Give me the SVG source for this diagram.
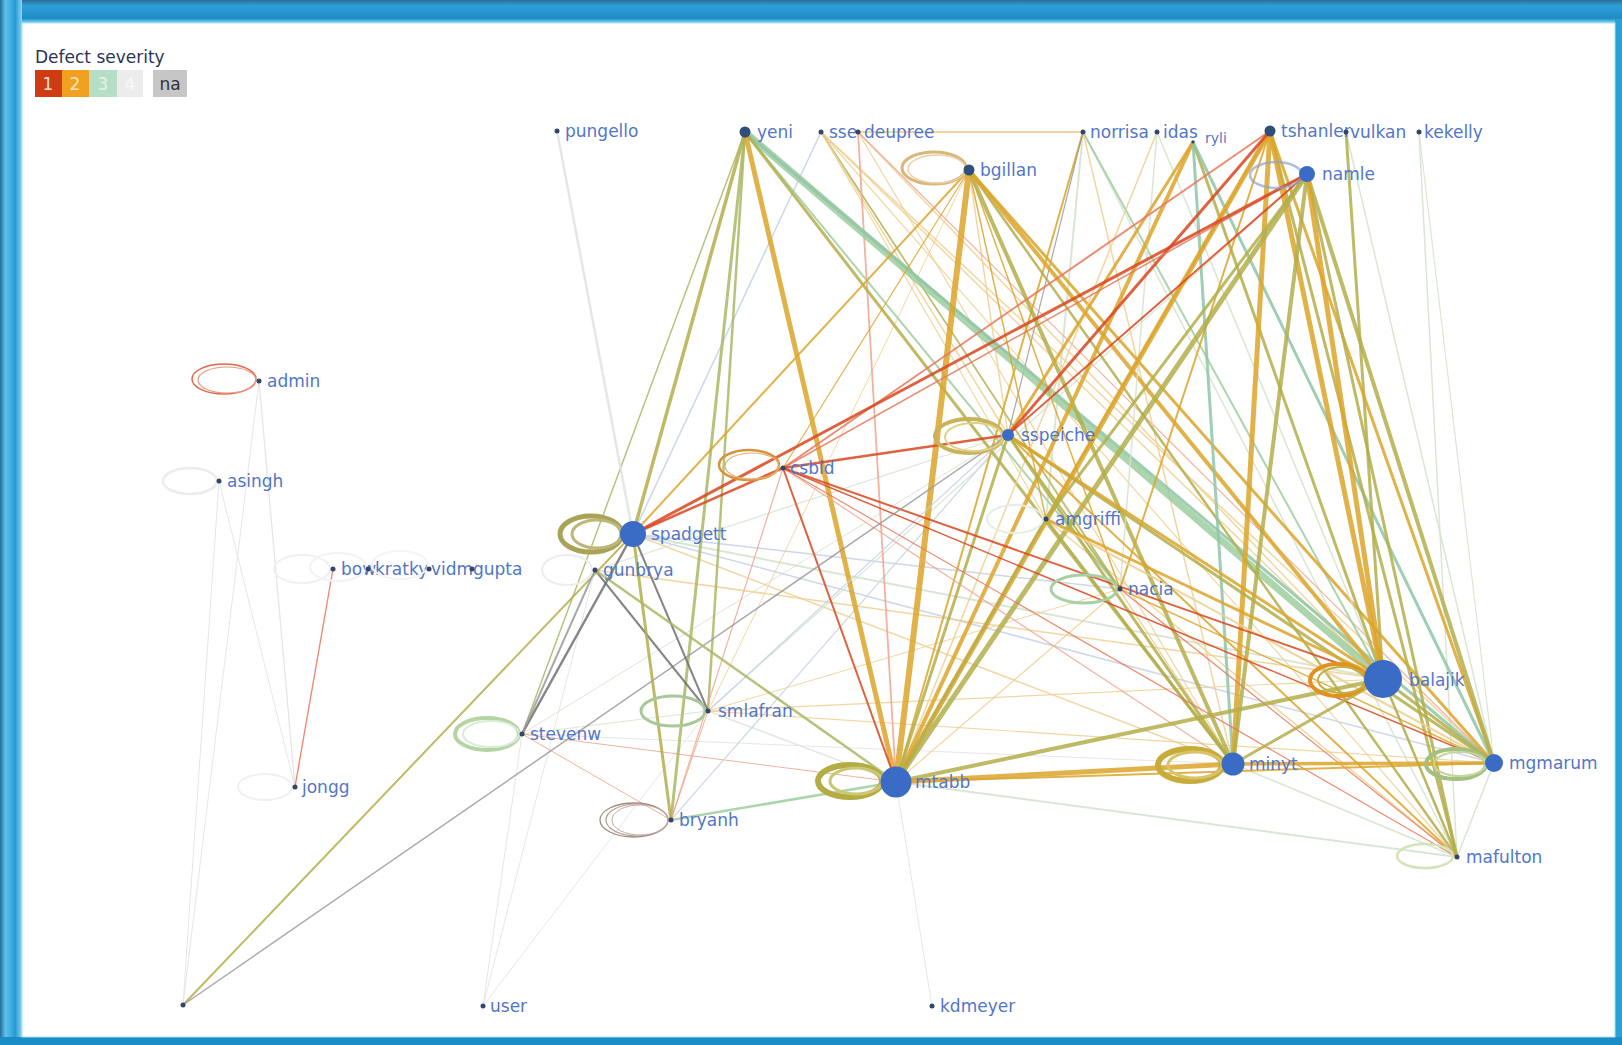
<svg xmlns="http://www.w3.org/2000/svg" width="1622" height="1045" viewBox="0 0 1622 1045">
<defs>
  <linearGradient id="frameTop" x1="0" y1="0" x2="0" y2="1">
    <stop offset="0" stop-color="#2a6f98"/>
    <stop offset="0.25" stop-color="#2f9fd6"/>
    <stop offset="0.8" stop-color="#1d8cc6"/>
    <stop offset="1" stop-color="#8ad6f2"/>
  </linearGradient>
  <linearGradient id="frameLeft" x1="0" y1="0" x2="1" y2="0">
    <stop offset="0" stop-color="#266c94"/>
    <stop offset="0.25" stop-color="#5cc2ee"/>
    <stop offset="0.7" stop-color="#2a9ad2"/>
    <stop offset="1" stop-color="#8ad6f2"/>
  </linearGradient>
  <style>
    .lb { font-family: "DejaVu Sans", "Liberation Sans", sans-serif; font-size: 17px; fill: #5276c8; }
    .ttl { font-family: "DejaVu Sans", "Liberation Sans", sans-serif; font-size: 17px; fill: #2c3556; }
    .key { font-family: "DejaVu Sans", "Liberation Sans", sans-serif; font-size: 17px; text-anchor: middle; }
    #connectors line { stroke-linecap: round; opacity: 0.85; fill: none; }
    .loop ellipse { fill: none; }
    .dot { fill: #33466a; }
    .hub { fill: #2f4e7a; }
    .big { fill: #3a6cc6; }
    .r { stroke: #d9461e; }
    .rl { stroke: #e8785a; }
    .pk { stroke: #f0a48c; }
    .g { stroke: #dca52a; }
    .gl { stroke: #f0cf90; }
    .ol { stroke: #b3ae4a; }
    .og { stroke: #a9b866; }
    .gn { stroke: #9dce9f; }
    .tg { stroke: #8fc6a8; }
    .gy { stroke: #9a9a9a; }
    .dg { stroke: #6e7270; }
    .lg { stroke: #e2e2e2; }
    .pb { stroke: #c4d0e4; }
    .pg { stroke: #d4e2cc; }
  </style>
</defs>

<!-- window frame -->
<rect x="0" y="0" width="1622" height="1045" fill="#1f6f9a"/>
<rect x="0" y="0" width="1622" height="23" fill="url(#frameTop)"/>
<rect x="0" y="0" width="22" height="1045" fill="url(#frameLeft)"/>
<rect x="1615" y="20" width="7" height="1025" fill="#2aa0d8"/>
<rect x="0" y="1037" width="1622" height="8" fill="#1a8cc6"/>
<rect x="22" y="23" width="1593" height="1014" fill="#ffffff" stroke="#a8e0f4" stroke-width="1"/>

<!-- legend -->
<g id="legend">
  <text class="ttl" x="35" y="63">Defect severity</text>
  <rect x="35" y="70" width="27" height="27" fill="#cf3c14"/>
  <rect x="62" y="70" width="27" height="27" fill="#f2a020"/>
  <rect x="89" y="70" width="28" height="27" fill="#b6dec6"/>
  <rect x="117" y="70" width="26" height="27" fill="#ececec"/>
  <rect x="153" y="70" width="34" height="27" fill="#c6c6c6"/>
  <text class="key" x="48" y="90" fill="#fbe0d0">1</text>
  <text class="key" x="75" y="90" fill="#fde6b8">2</text>
  <text class="key" x="103" y="90" fill="#e2f2e8">3</text>
  <text class="key" x="130" y="90" fill="#f8f8f8">4</text>
  <text class="key" x="170" y="90" fill="#333333">na</text>
</g>

<!-- connectors -->
<g id="connectors">
  <!-- faint background links -->
  <line class="lg" x1="259" y1="381" x2="295" y2="787" stroke-width="1.3"/>
  <line class="lg" x1="259" y1="381" x2="183" y2="1005" stroke-width="1"/>
  <line class="lg" x1="219" y1="481" x2="183" y2="1005" stroke-width="1"/>
  <line class="lg" x1="219" y1="481" x2="295" y2="787" stroke-width="1"/>
  <line class="rl" x1="333" y1="569" x2="295" y2="787" stroke-width="1.4"/>
  <line class="lg" x1="483" y1="1006" x2="595" y2="570" stroke-width="1"/>
  <line class="lg" x1="483" y1="1006" x2="708" y2="711" stroke-width="1"/>
  <line class="lg" x1="522" y1="734" x2="483" y2="1006" stroke-width="1"/>
  <line class="lg" x1="932" y1="1006" x2="896" y2="782" stroke-width="1"/>
  <line class="lg" x1="522" y1="734" x2="1233" y2="764" stroke-width="1"/>
  <line class="pg" x1="522" y1="734" x2="1008" y2="435" stroke-width="1"/>
  <line class="pk" x1="522" y1="734" x2="671" y2="820" stroke-width="1"/>
  <line class="pk" x1="522" y1="734" x2="896" y2="782" stroke-width="1"/>
  <line class="pg" x1="708" y1="711" x2="522" y2="734" stroke-width="1"/>
  <line class="lg" x1="708" y1="711" x2="896" y2="782" stroke-width="1.5"/>
  <line class="gl" x1="708" y1="711" x2="1494" y2="763" stroke-width="1.2"/>
  <line class="gl" x1="708" y1="711" x2="1383" y2="679" stroke-width="1.2"/>
  <line class="pb" x1="671" y1="820" x2="1008" y2="435" stroke-width="1.2"/>
  <line class="pk" x1="671" y1="820" x2="708" y2="711" stroke-width="1"/>
  <line class="pg" x1="633" y1="534" x2="1383" y2="679" stroke-width="2"/>
  <line class="gl" x1="633" y1="534" x2="1233" y2="764" stroke-width="1.5"/>
  <line class="pb" x1="633" y1="534" x2="1494" y2="763" stroke-width="1.5"/>
  <line class="pb" x1="633" y1="534" x2="1120" y2="589" stroke-width="1.5"/>
  <line class="gl" x1="595" y1="570" x2="1383" y2="679" stroke-width="1.5"/>
  <line class="pg" x1="896" y1="782" x2="1457" y2="857" stroke-width="2"/>
  <line class="pg" x1="1233" y1="764" x2="1457" y2="857" stroke-width="1.5"/>
  <line class="pg" x1="1494" y1="763" x2="1457" y2="857" stroke-width="1.5"/>
  <line class="pg" x1="1419" y1="132" x2="1457" y2="857" stroke-width="1.5"/>
  <line class="pg" x1="1419" y1="132" x2="1494" y2="763" stroke-width="1.2"/>
  <line class="pg" x1="1346" y1="132" x2="1494" y2="763" stroke-width="1.5"/>
  <line class="pg" x1="1083" y1="132" x2="1457" y2="857" stroke-width="1.5"/>
  <line class="pg" x1="1083" y1="132" x2="1046" y2="519" stroke-width="2"/>
  <line class="pg" x1="1307" y1="174" x2="708" y2="711" stroke-width="1.2"/>
  <line class="gl" x1="1120" y1="589" x2="896" y2="782" stroke-width="1.2"/>
  <line class="gl" x1="969" y1="170" x2="708" y2="711" stroke-width="1"/>
  <line class="gl" x1="969" y1="170" x2="1008" y2="435" stroke-width="1.5"/>
  <line class="gl" x1="1046" y1="519" x2="1457" y2="857" stroke-width="1.5"/>
  <line class="pg" x1="1008" y1="435" x2="595" y2="570" stroke-width="1.2"/>
  <line class="gl" x1="1120" y1="589" x2="708" y2="711" stroke-width="1"/>

  <!-- from sse / deupree / norrisa -->
  <line class="pb" x1="821" y1="132" x2="633" y2="534" stroke-width="1.5"/>
  <line class="gl" x1="821" y1="132" x2="1383" y2="679" stroke-width="1.5"/>
  <line class="gl" x1="821" y1="132" x2="1494" y2="763" stroke-width="1.5"/>
  <line class="gl" x1="821" y1="132" x2="1233" y2="764" stroke-width="1.5"/>
  <line class="gl" x1="821" y1="132" x2="1457" y2="857" stroke-width="1.2"/>
  <line class="gl" x1="821" y1="132" x2="1046" y2="519" stroke-width="1.2"/>
  <line class="og" x1="821" y1="132" x2="1120" y2="589" stroke-width="1.5"/>
  <line class="gl" x1="821" y1="132" x2="1008" y2="435" stroke-width="1.5"/>
  <line class="pk" x1="858" y1="132" x2="896" y2="782" stroke-width="1.8"/>
  <line class="gl" x1="858" y1="132" x2="1083" y2="132" stroke-width="2"/>
  <line class="gl" x1="858" y1="132" x2="1383" y2="679" stroke-width="1.5"/>
  <line class="gl" x1="858" y1="132" x2="1233" y2="764" stroke-width="1.2"/>
  <line class="pk" x1="858" y1="132" x2="1494" y2="763" stroke-width="1.2"/>
  <line class="g" x1="1083" y1="132" x2="896" y2="782" stroke-width="2" opacity="0.6"/>
  <line class="gy" x1="1083" y1="132" x2="1008" y2="435" stroke-width="1.2" opacity="0.5"/>
  <line class="gn" x1="1083" y1="132" x2="1383" y2="679" stroke-width="2"/>
  <line class="gl" x1="1083" y1="132" x2="1233" y2="764" stroke-width="1.5"/>

  <!-- from yeni -->
  <line class="og" x1="745" y1="132" x2="522" y2="734" stroke-width="1.5" opacity="0.5"/>
  <line class="ol" x1="745" y1="132" x2="633" y2="534" stroke-width="3.5"/>
  <line class="og" x1="745" y1="132" x2="708" y2="711" stroke-width="2.5"/>
  <line class="og" x1="745" y1="132" x2="671" y2="820" stroke-width="3"/>
  <line class="gn" x1="745" y1="132" x2="1120" y2="589" stroke-width="2"/>
  <line class="gn" x1="745" y1="132" x2="1383" y2="679" stroke-width="7" opacity="0.75"/>
  <line class="tg" x1="745" y1="132" x2="1494" y2="763" stroke-width="3"/>
  <line class="ol" x1="745" y1="132" x2="1233" y2="764" stroke-width="3"/>
  <line class="g" x1="745" y1="132" x2="896" y2="782" stroke-width="5"/>

  <!-- from bgillan -->
  <line class="g" x1="969" y1="170" x2="633" y2="534" stroke-width="2" opacity="0.75"/>
  <line class="g" x1="969" y1="170" x2="1120" y2="589" stroke-width="1.5" opacity="0.6"/>
  <line class="g" x1="969" y1="170" x2="1046" y2="519" stroke-width="1.5" opacity="0.5"/>
  <line class="g" x1="969" y1="170" x2="783" y2="468" stroke-width="1.2" opacity="0.5"/>
  <line class="ol" x1="969" y1="170" x2="1457" y2="857" stroke-width="2.5"/>
  <line class="g" x1="969" y1="170" x2="1494" y2="763" stroke-width="3"/>
  <line class="ol" x1="969" y1="170" x2="1233" y2="764" stroke-width="4"/>
  <line class="g" x1="969" y1="170" x2="1383" y2="679" stroke-width="4"/>
  <line class="g" x1="969" y1="170" x2="896" y2="782" stroke-width="6"/>

  <!-- from idas / ryli -->
  <line class="gl" x1="1157" y1="132" x2="896" y2="782" stroke-width="1.5"/>
  <line class="pg" x1="1157" y1="132" x2="1120" y2="589" stroke-width="1.5"/>
  <line class="pg" x1="1157" y1="132" x2="1457" y2="857" stroke-width="1.5"/>
  <line class="g" x1="1193" y1="142" x2="1008" y2="435" stroke-width="3"/>
  <line class="g" x1="1193" y1="142" x2="896" y2="782" stroke-width="4"/>
  <line class="tg" x1="1193" y1="142" x2="1233" y2="764" stroke-width="3"/>
  <line class="ol" x1="1193" y1="142" x2="1383" y2="679" stroke-width="3"/>
  <line class="tg" x1="1193" y1="142" x2="1494" y2="763" stroke-width="3"/>

  <!-- from vulkan / tshanler / namle -->
  <line class="ol" x1="1346" y1="132" x2="1383" y2="679" stroke-width="3"/>
  <line class="g" x1="1270" y1="131" x2="1120" y2="589" stroke-width="2" opacity="0.7"/>
  <line class="g" x1="1270" y1="131" x2="1046" y2="519" stroke-width="2" opacity="0.7"/>
  <line class="ol" x1="1270" y1="131" x2="1457" y2="857" stroke-width="3"/>
  <line class="g" x1="1270" y1="131" x2="1494" y2="763" stroke-width="3"/>
  <line class="g" x1="1270" y1="131" x2="1383" y2="679" stroke-width="5"/>
  <line class="g" x1="1270" y1="131" x2="1233" y2="764" stroke-width="5"/>
  <line class="g" x1="1270" y1="131" x2="896" y2="782" stroke-width="5"/>
  <line class="rl" x1="1270" y1="131" x2="783" y2="468" stroke-width="2"/>
  <line class="r" x1="1270" y1="131" x2="1008" y2="435" stroke-width="3"/>
  <line class="rl" x1="1307" y1="174" x2="783" y2="468" stroke-width="1.5"/>
  <line class="ol" x1="1307" y1="174" x2="1046" y2="519" stroke-width="3"/>
  <line class="ol" x1="1307" y1="174" x2="1457" y2="857" stroke-width="3"/>
  <line class="ol" x1="1307" y1="174" x2="1494" y2="763" stroke-width="4"/>
  <line class="g" x1="1307" y1="174" x2="1383" y2="679" stroke-width="5"/>
  <line class="ol" x1="1307" y1="174" x2="1233" y2="764" stroke-width="4"/>
  <line class="ol" x1="1307" y1="174" x2="896" y2="782" stroke-width="5"/>
  <line class="r" x1="1307" y1="174" x2="1008" y2="435" stroke-width="2"/>
  <line class="r" x1="1307" y1="174" x2="633" y2="534" stroke-width="3"/>

  <!-- from sspeiche / amgriffi / nacia -->
  <line class="pb" x1="1008" y1="435" x2="708" y2="711" stroke-width="1.2"/>
  <line class="ol" x1="1008" y1="435" x2="1120" y2="589" stroke-width="2"/>
  <line class="g" x1="1008" y1="435" x2="1457" y2="857" stroke-width="2" opacity="0.7"/>
  <line class="ol" x1="1008" y1="435" x2="1494" y2="763" stroke-width="3"/>
  <line class="ol" x1="1008" y1="435" x2="1233" y2="764" stroke-width="3"/>
  <line class="g" x1="1008" y1="435" x2="1383" y2="679" stroke-width="3"/>
  <line class="ol" x1="1008" y1="435" x2="896" y2="782" stroke-width="3"/>
  <line class="r" x1="1008" y1="435" x2="783" y2="468" stroke-width="2.5"/>
  <line class="gl" x1="1046" y1="519" x2="1494" y2="763" stroke-width="2"/>
  <line class="ol" x1="1046" y1="519" x2="1233" y2="764" stroke-width="2.5"/>
  <line class="g" x1="1046" y1="519" x2="1383" y2="679" stroke-width="3"/>
  <line class="ol" x1="1046" y1="519" x2="896" y2="782" stroke-width="2.5"/>
  <line class="g" x1="1120" y1="589" x2="1494" y2="763" stroke-width="1.5" opacity="0.6"/>
  <line class="rl" x1="1120" y1="589" x2="1457" y2="857" stroke-width="1.2"/>

  <!-- from csbld -->
  <line class="pk" x1="783" y1="468" x2="671" y2="820" stroke-width="1.2"/>
  <line class="pk" x1="783" y1="468" x2="1233" y2="764" stroke-width="1.2"/>
  <line class="rl" x1="783" y1="468" x2="1457" y2="857" stroke-width="1.2"/>
  <line class="r" x1="783" y1="468" x2="1494" y2="763" stroke-width="1.5"/>
  <line class="r" x1="783" y1="468" x2="1383" y2="679" stroke-width="2"/>
  <line class="r" x1="783" y1="468" x2="896" y2="782" stroke-width="2"/>
  <line class="r" x1="783" y1="468" x2="633" y2="534" stroke-width="2.5"/>

  <!-- from spadgett / gunbrya / pungello -->
  <line class="lg" x1="557" y1="131" x2="633" y2="534" stroke-width="2.5"/>
  <line class="ol" x1="183" y1="1005" x2="633" y2="534" stroke-width="2" opacity="0.7"/>
  <line class="gy" x1="183" y1="1005" x2="1008" y2="435" stroke-width="1.5" opacity="0.55"/>
  <line class="dg" x1="633" y1="534" x2="522" y2="734" stroke-width="2.5"/>
  <line class="gy" x1="595" y1="570" x2="522" y2="734" stroke-width="2"/>
  <line class="dg" x1="633" y1="534" x2="708" y2="711" stroke-width="2" opacity="0.65"/>
  <line class="dg" x1="595" y1="570" x2="708" y2="711" stroke-width="2" opacity="0.55"/>
  <line class="ol" x1="633" y1="534" x2="671" y2="820" stroke-width="3"/>
  <line class="og" x1="595" y1="570" x2="896" y2="782" stroke-width="2.5" opacity="0.7"/>

  <!-- lower links -->
  <line class="gn" x1="671" y1="820" x2="896" y2="782" stroke-width="2.5"/>
  <line class="g" x1="896" y1="782" x2="1494" y2="763" stroke-width="2" opacity="0.6"/>
  <line class="ol" x1="896" y1="782" x2="1383" y2="679" stroke-width="4"/>
  <line class="g" x1="896" y1="782" x2="1233" y2="764" stroke-width="5"/>
  <line class="ol" x1="1233" y1="764" x2="1383" y2="679" stroke-width="3"/>
  <line class="g" x1="1233" y1="764" x2="1494" y2="763" stroke-width="3.5"/>
  <line class="ol" x1="1383" y1="679" x2="1494" y2="763" stroke-width="3"/>
  <line class="ol" x1="1383" y1="679" x2="1457" y2="857" stroke-width="2.5"/>
</g>

<!-- nodes -->
<g id="n-admin"><g class="loop"><ellipse cx="224" cy="379" rx="32" ry="15" stroke="#e0684a" stroke-width="1.5"/><ellipse cx="227" cy="380" rx="29" ry="13" stroke="#eb9a82" stroke-width="1.2"/></g><circle class="dot" cx="259" cy="381" r="2.5"/><text class="lb" x="267" y="387">admin</text></g>
<g id="n-asingh"><g class="loop"><ellipse cx="190" cy="481" rx="27" ry="13" stroke="#ececec" stroke-width="2.5"/></g><circle class="dot" cx="219" cy="481" r="2.5"/><text class="lb" x="227" y="487">asingh</text></g>
<g id="n-bow"><g class="loop"><ellipse cx="302" cy="569" rx="28" ry="14" stroke="#f0f0f0" stroke-width="2"/></g><circle class="dot" cx="333" cy="569" r="2.5"/><text class="lb" x="341" y="575">bow</text></g>
<g id="n-kratky"><g class="loop"><ellipse cx="338" cy="567" rx="28" ry="14" stroke="#f3f3f3" stroke-width="2"/></g><circle class="dot" cx="368" cy="569" r="2.5"/><text class="lb" x="375" y="575">kratky</text></g>
<g id="n-vidm"><g class="loop"><ellipse cx="400" cy="565" rx="28" ry="14" stroke="#f4f4f4" stroke-width="2"/></g><circle class="dot" cx="429" cy="569" r="2.5"/><text class="lb" x="431" y="575">vidm</text></g>
<g id="n-gupta"><circle class="dot" cx="472" cy="569" r="2.5"/><text class="lb" x="473" y="575">gupta</text></g>
<g id="n-gunbrya"><g class="loop"><ellipse cx="567" cy="570" rx="25" ry="15" stroke="#ececec" stroke-width="2"/></g><circle class="dot" cx="595" cy="570" r="2.5"/><text class="lb" x="603" y="576">gunbrya</text></g>
<g id="n-jongg"><g class="loop"><ellipse cx="265" cy="787" rx="27" ry="13" stroke="#f0f0f0" stroke-width="2"/></g><circle class="dot" cx="295" cy="787" r="2.5"/><text class="lb" x="302" y="793">jongg</text></g>
<g id="n-anon"><circle class="dot" cx="183" cy="1005" r="2.5"/></g>
<g id="n-user"><circle class="dot" cx="483" cy="1006" r="2.5"/><text class="lb" x="490" y="1012">user</text></g>
<g id="n-kdmeyer"><circle class="dot" cx="932" cy="1006" r="2.5"/><text class="lb" x="940" y="1012">kdmeyer</text></g>

<g id="n-pungello"><circle class="dot" cx="557" cy="131" r="2.5"/><text class="lb" x="565" y="137">pungello</text></g>
<g id="n-yeni"><circle class="hub" cx="745" cy="132" r="5.5"/><text class="lb" x="757" y="138">yeni</text></g>
<g id="n-sse"><circle class="dot" cx="821" cy="132" r="2.5"/><text class="lb" x="829" y="138">sse</text></g>
<g id="n-deupree"><circle class="dot" cx="858" cy="132" r="2.5"/><text class="lb" x="864" y="138">deupree</text></g>
<g id="n-bgillan"><g class="loop"><ellipse cx="934" cy="168" rx="32" ry="16" stroke="#d9b67a" stroke-width="3"/><ellipse cx="937" cy="169" rx="29" ry="14" stroke="#e8d0a8" stroke-width="1.5"/></g><circle class="hub" cx="969" cy="170" r="5.5"/><text class="lb" x="980" y="176">bgillan</text></g>
<g id="n-norrisa"><circle class="dot" cx="1083" cy="132" r="2.5"/><text class="lb" x="1090" y="138">norrisa</text></g>
<g id="n-idas"><circle class="dot" cx="1157" cy="132" r="2.5"/><text class="lb" x="1163" y="138">idas</text></g>
<g id="n-ryli"><circle class="dot" cx="1193" cy="142" r="1.5"/><text class="lb" x="1205" y="143" style="font-size:14px">ryli</text></g>
<g id="n-tshanler"><circle class="hub" cx="1270" cy="131" r="5.5"/><text class="lb" x="1281" y="137">tshanler</text></g>
<g id="n-vulkan"><circle class="dot" cx="1346" cy="132" r="2.5"/><text class="lb" x="1350" y="138">vulkan</text></g>
<g id="n-kekelly"><circle class="dot" cx="1419" cy="132" r="2.5"/><text class="lb" x="1424" y="138">kekelly</text></g>
<g id="n-namle"><g class="loop"><ellipse cx="1276" cy="175" rx="26" ry="13" stroke="#8da2cc" stroke-width="2.5" opacity="0.7"/></g><circle class="big" cx="1307" cy="174" r="8"/><text class="lb" x="1322" y="180">namle</text></g>

<g id="n-csbld"><g class="loop"><ellipse cx="749" cy="465" rx="30" ry="15" stroke="#d8923c" stroke-width="2.5"/><ellipse cx="752" cy="466" rx="27" ry="13" stroke="#e6b070" stroke-width="1.2"/></g><circle class="dot" cx="783" cy="468" r="2.5"/><text class="lb" x="790" y="474">csbld</text></g>
<g id="n-sspeiche"><g class="loop"><ellipse cx="969" cy="436" rx="34" ry="17" stroke="#c9b35a" stroke-width="4"/><ellipse cx="974" cy="437" rx="29" ry="14" stroke="#ddd08a" stroke-width="2"/></g><circle class="big" cx="1008" cy="435" r="6"/><text class="lb" x="1021" y="441">sspeiche</text></g>
<g id="n-amgriffi"><g class="loop"><ellipse cx="1015" cy="519" rx="28" ry="14" stroke="#e4eee4" stroke-width="2"/></g><circle class="dot" cx="1046" cy="519" r="2.5"/><text class="lb" x="1055" y="525">amgriffi</text></g>
<g id="n-spadgett"><g class="loop"><ellipse cx="591" cy="534" rx="31" ry="18" stroke="#a9a257" stroke-width="5"/><ellipse cx="597" cy="534" rx="25" ry="14" stroke="#bdb676" stroke-width="3"/></g><circle class="big" cx="633" cy="534" r="13"/><text class="lb" x="651" y="540">spadgett</text></g>
<g id="n-nacia"><g class="loop"><ellipse cx="1084" cy="589" rx="33" ry="14" stroke="#a8d0a4" stroke-width="3"/></g><circle class="dot" cx="1120" cy="589" r="2.5"/><text class="lb" x="1128" y="595">nacia</text></g>
<g id="n-smlafran"><g class="loop"><ellipse cx="673" cy="711" rx="32" ry="15" stroke="#a9c89a" stroke-width="3"/></g><circle class="dot" cx="708" cy="711" r="2.5"/><text class="lb" x="718" y="717">smlafran</text></g>
<g id="n-stevenw"><g class="loop"><ellipse cx="487" cy="734" rx="32" ry="16" stroke="#b4d4a4" stroke-width="4"/><ellipse cx="491" cy="734" rx="28" ry="13" stroke="#d8ecd8" stroke-width="2"/></g><circle class="dot" cx="522" cy="734" r="2.5"/><text class="lb" x="530" y="740">stevenw</text></g>
<g id="n-bryanh"><g class="loop"><ellipse cx="634" cy="820" rx="34" ry="17" stroke="#a48c80" stroke-width="1.3"/><ellipse cx="637" cy="820" rx="31" ry="16" stroke="#b09a90" stroke-width="1.2"/><ellipse cx="640" cy="820" rx="28" ry="15" stroke="#c0aca4" stroke-width="1"/></g><circle class="dot" cx="671" cy="820" r="2.5"/><text class="lb" x="679" y="826">bryanh</text></g>
<g id="n-mtabb"><g class="loop"><ellipse cx="850" cy="781" rx="32" ry="16" stroke="#b2ac42" stroke-width="6"/><ellipse cx="856" cy="781" rx="26" ry="13" stroke="#cdc672" stroke-width="3"/></g><circle class="big" cx="896" cy="782" r="15.5"/><text class="lb" x="915" y="788">mtabb</text></g>
<g id="n-balajik"><g class="loop"><ellipse cx="1338" cy="680" rx="28" ry="16" stroke="#e3901e" stroke-width="4"/><ellipse cx="1342" cy="680" rx="24" ry="13" stroke="#c0b040" stroke-width="2"/></g><circle class="big" cx="1383" cy="679" r="19"/><text class="lb" x="1409" y="686">balajik</text></g>
<g id="n-minyt"><g class="loop"><ellipse cx="1190" cy="765" rx="32" ry="16" stroke="#c7ac3a" stroke-width="6"/><ellipse cx="1195" cy="765" rx="27" ry="13" stroke="#d8c468" stroke-width="3"/></g><circle class="big" cx="1233" cy="764" r="11.5"/><text class="lb" x="1249" y="770">minyt</text></g>
<g id="n-mgmarum"><g class="loop"><ellipse cx="1456" cy="764" rx="30" ry="15" stroke="#a4c080" stroke-width="4"/><ellipse cx="1460" cy="764" rx="26" ry="12" stroke="#c4d69a" stroke-width="2"/></g><circle class="big" cx="1494" cy="763" r="9"/><text class="lb" x="1509" y="769">mgmarum</text></g>
<g id="n-mafulton"><g class="loop"><ellipse cx="1425" cy="856" rx="28" ry="12" stroke="#d4e4b8" stroke-width="2.5"/></g><circle class="dot" cx="1457" cy="857" r="2.5"/><text class="lb" x="1466" y="863">mafulton</text></g>
</svg>
